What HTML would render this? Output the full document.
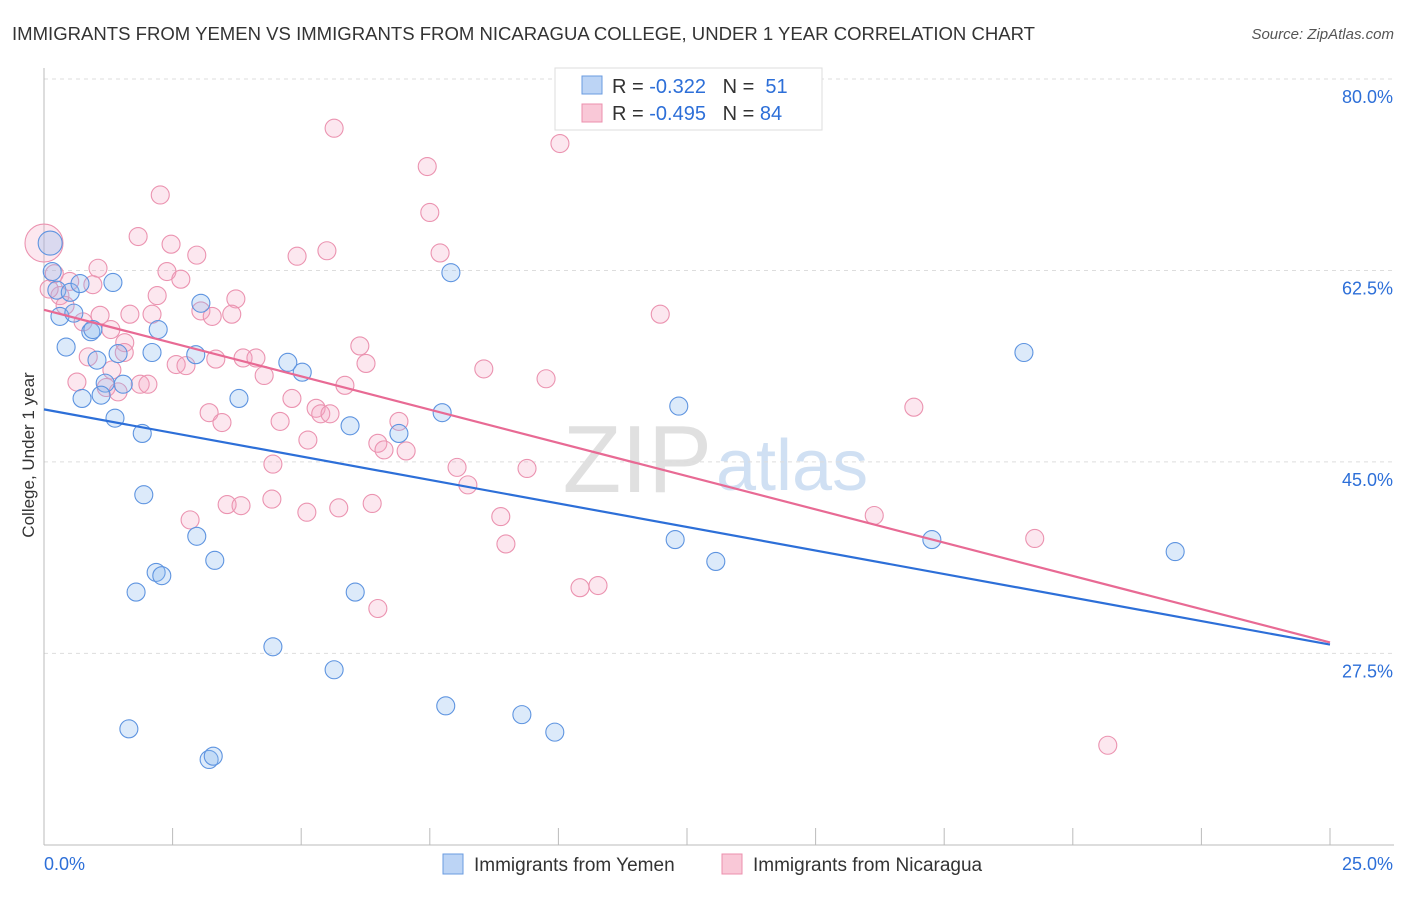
<!DOCTYPE html>
<html><head><meta charset="utf-8"><style>
body{margin:0;background:#fff;font-family:"Liberation Sans",sans-serif}
svg text{font-family:"Liberation Sans",sans-serif}
</style></head><body>
<svg id="c" width="1406" height="892">
<text x="12" y="40" font-size="18" fill="#333" textLength="1023" lengthAdjust="spacingAndGlyphs">IMMIGRANTS FROM YEMEN VS IMMIGRANTS FROM NICARAGUA COLLEGE, UNDER 1 YEAR CORRELATION CHART</text>
<text x="1394" y="39" font-size="15" fill="#555" font-style="italic" text-anchor="end">Source: ZipAtlas.com</text>
<text x="712" y="492" font-size="96" fill="#e0e0e0" text-anchor="end" font-family="Liberation Serif">ZIP</text>
<text x="716" y="490" font-size="72" fill="#d0e0f3">atlas</text>
<g id="grid"></g><g id="axes"></g><g id="pts"></g><g id="lines"></g>
<text x="34" y="455" font-size="17" fill="#333" text-anchor="middle" transform="rotate(-90 34 455)">College, Under 1 year</text>
<g>
<rect x="555" y="68" width="267" height="62" fill="#fff" stroke="#ddd"/>
<rect x="582" y="76" width="20" height="18" fill="#bcd4f5" stroke="#6a9be0"/>
<rect x="582" y="104" width="20" height="18" fill="#f9c8d7" stroke="#ec8fad"/>
<text x="612" y="93" font-size="20" fill="#333">R = <tspan fill="#2d6fd8">-0.322</tspan>&#160;&#160;&#160;N = <tspan fill="#2d6fd8">&#160;51</tspan></text>
<text x="612" y="120" font-size="20" fill="#333">R = <tspan fill="#2d6fd8">-0.495</tspan>&#160;&#160;&#160;N = <tspan fill="#2d6fd8">84</tspan></text>
</g>
<g>
<rect x="443" y="854" width="20" height="20" fill="#bcd4f5" stroke="#6a9be0"/>
<text x="474" y="871" font-size="19" fill="#333">Immigrants from Yemen</text>
<rect x="722" y="854" width="20" height="20" fill="#f9c8d7" stroke="#ec8fad"/>
<text x="753" y="871" font-size="19" fill="#333">Immigrants from Nicaragua</text>
</g>
</svg>
<script>
const yTicks=[80,62.5,45,27.5];
const yTickLabels=["80.0%","62.5%","45.0%","27.5%"];
const xTickLabels=["0.0%","25.0%"];
const yemenX=[0.12,0.16,0.25,0.51,0.70,1.34,0.31,0.58,0.91,0.95,0.43,1.03,1.44,2.10,2.22,3.05,2.95,4.74,5.02,1.19,1.54,0.74,1.11,1.38,1.91,3.79,5.95,6.90,7.74,7.91,1.94,2.97,3.32,2.18,2.29,1.79,6.05,4.45,5.64,7.81,9.29,1.65,9.93,3.21,3.29,12.34,12.27,13.06,17.26,19.05,21.99];
const yemenY=[65.0,62.4,60.7,60.5,61.3,61.4,58.3,58.6,56.9,57.1,55.5,54.3,54.9,55.0,57.1,59.5,54.8,54.1,53.2,52.2,52.1,50.8,51.1,49.0,47.6,50.8,48.3,47.6,49.5,62.3,42.0,38.2,36.0,34.9,34.6,33.1,33.1,28.1,26.0,22.7,21.9,20.6,20.3,17.8,18.1,50.1,37.9,35.9,37.9,55.0,36.8];
const nicX=[0,5.64,10.03,7.45,2.26,7.50,1.83,2.47,2.97,5.50,4.92,7.70,1.05,2.39,2.66,0.95,0.31,2.20,3.73,0.41,1.09,1.67,2.10,3.05,3.27,3.65,0.76,1.30,11.98,1.57,6.14,1.56,0.86,3.34,3.87,4.12,2.57,2.76,6.26,1.32,4.28,8.55,9.76,0.64,1.87,2.02,1.21,1.44,5.85,4.82,3.21,3.46,5.29,5.38,5.56,6.90,16.91,4.59,5.13,6.49,6.61,7.04,4.45,8.03,9.39,8.24,3.56,3.83,4.43,5.73,6.38,2.84,5.11,8.88,16.14,8.98,19.26,10.42,10.77,6.49,20.68,0.2,0.5,0.1];
const nicY=[65.0,75.5,74.1,72.0,69.4,67.8,65.6,64.9,63.9,64.3,63.8,64.1,62.7,62.4,61.7,61.2,60.2,60.2,59.9,59.3,58.4,58.5,58.5,58.8,58.3,58.5,57.8,57.1,58.5,55.9,55.6,55.0,54.6,54.4,54.5,54.5,53.9,53.8,54.0,53.4,52.9,53.5,52.6,52.3,52.1,52.1,51.8,51.4,52.0,50.8,49.5,48.6,49.9,49.4,49.4,48.7,50.0,48.7,47.0,46.7,46.1,46.0,44.8,44.5,44.4,42.9,41.1,41.0,41.6,40.8,41.2,39.7,40.4,40.0,40.1,37.5,38.0,33.5,33.7,31.6,19.1,62.2,61.5,60.8];
const yemenTrend=[49.8,28.3];
const nicTrend=[58.9,28.5];
const NS="http://www.w3.org/2000/svg";
const X=v=>44+v*51.44, Y=v=>79+(80-v)*10.94;
function mk(t,a,p){const e=document.createElementNS(NS,t);for(const k in a)e.setAttribute(k,a[k]);p.appendChild(e);return e;}
const grid=document.getElementById('grid'),axes=document.getElementById('axes'),pts=document.getElementById('pts'),lines=document.getElementById('lines');
yTicks.forEach((t,i)=>{
 const l=mk('line',{x1:44,x2:1394,y1:Y(t),y2:Y(t),stroke:'#ddd','stroke-dasharray':'4 4'},grid);
 
 
 const tx=mk('text',{x:1393,y:Y(t)+24,'font-size':18,fill:'#2d6fd8','text-anchor':'end'},axes);
 tx.textContent=yTickLabels[i];
 
 
});
mk('line',{x1:44,x2:44,y1:68,y2:845,stroke:'#bbb'},axes);
mk('line',{x1:44,x2:1394,y1:845,y2:845,stroke:'#bbb'},axes);
for(let i=1;i<=10;i++){const t=mk('line',{x1:X(i*2.5),x2:X(i*2.5),y1:828,y2:845,stroke:'#bbb'},axes);
 
 }
[[0,'start',44],[1,'end',1393]].forEach(([i,a,x])=>{const t=mk('text',{x:x,y:870,'font-size':18,fill:'#2d6fd8','text-anchor':a},axes);t.textContent=xTickLabels[i];
 
 });
nicX.forEach((x,i)=>{const c=mk('circle',{cx:X(x),cy:Y(nicY[i]),r:i==0?19:9,fill:'rgba(245,160,190,0.25)',stroke:'#eb93b0','stroke-width':1.1},pts);
 
 });
yemenX.forEach((x,i)=>{const c=mk('circle',{cx:X(x),cy:Y(yemenY[i]),r:i==0?12:9,fill:'rgba(140,185,240,0.3)',stroke:'#5e94e0','stroke-width':1.1},pts);
 
 });
const lb=mk('line',{x1:X(0),y1:Y(yemenTrend[0]),x2:X(25),y2:Y(yemenTrend[1]),stroke:'#2d6fd8','stroke-width':2.2},lines);


const lp=mk('line',{x1:X(0),y1:Y(nicTrend[0]),x2:X(25),y2:Y(nicTrend[1]),stroke:'#e86a94','stroke-width':2.2},lines);


</script>
</body></html>
